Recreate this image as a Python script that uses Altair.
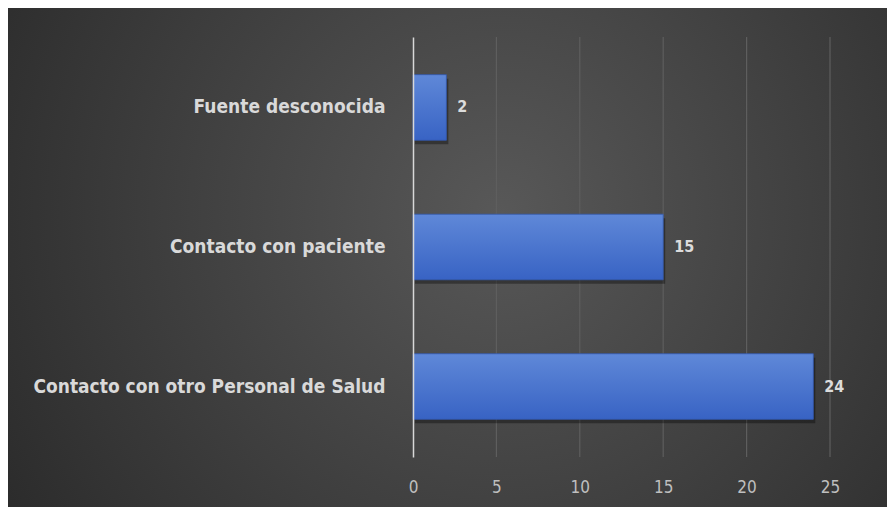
import altair as alt
import pandas as pd

categories = ["Fuente desconocida", "Contacto con paciente", "Contacto con otro Personal de Salud"]
values = [2, 15, 24]
x_ticks = [0, 5, 10, 15, 20, 25]

df = pd.DataFrame({"cat": categories, "val": values})
grid_df = pd.DataFrame({"t": x_ticks[1:]})
bg_df = pd.DataFrame({"a": [0]})

W, H = 417, 420
FONT = "'DejaVu Sans Condensed', 'Open Sans', sans-serif"

bg = alt.Chart(bg_df).mark_rect(
    fill={
        "gradient": "radial",
        "x1": 0.56, "y1": 0.45, "r1": 0,
        "x2": 0.56, "y2": 0.45, "r2": 0.72,
        "stops": [
            {"offset": 0, "color": "#585858"},
            {"offset": 1, "color": "#272727"},
        ],
    },
    clip=False,
).encode(
    x=alt.value(-405), x2=alt.value(474),
    y=alt.value(-29), y2=alt.value(470),
)

y_enc = alt.Y("cat:N", sort=categories, title=None,
              scale=alt.Scale(paddingInner=0.53, paddingOuter=0.27),
              axis=alt.Axis(grid=False, ticks=False, domain=True, zindex=1,
                            domainColor="#d8d8d8", domainWidth=1.5,
                            labelFont=FONT, labelFontSize=19,
                            labelFontWeight="bold", labelColor="#d9d9d9",
                            labelPadding=28, labelLimit=400))
x_enc = alt.X("val:Q", title=None,
              scale=alt.Scale(domain=[0, 25], nice=False),
              axis=alt.Axis(values=x_ticks, grid=False, domain=False, ticks=False, zindex=1,
                            labelFlush=False,
                            labelFont=FONT, labelFontSize=17,
                            labelColor="#bfbfbf", labelPadding=22))

grid = alt.Chart(grid_df).mark_rule(color="#5e5e5e", strokeWidth=1.2).encode(
    x=alt.X("t:Q", scale=alt.Scale(domain=[0, 25], nice=False))
)

shadow = alt.Chart(df).mark_bar(color="black", opacity=0.35, xOffset=2, yOffset=4).encode(
    x=x_enc, y=y_enc
)

bars = alt.Chart(df).mark_bar(
    fill={
        "gradient": "linear",
        "x1": 0, "y1": 0, "x2": 0, "y2": 1,
        "stops": [
            {"offset": 0, "color": "#5f88d8"},
            {"offset": 1, "color": "#3863c4"},
        ],
    },
    stroke="#3459b0", strokeWidth=0.8,
).encode(x=x_enc, y=y_enc)

text = alt.Chart(df).mark_text(
    align="left", baseline="middle", dx=11,
    font=FONT, fontSize=16, fontWeight="bold", color="#dcdcdc",
).encode(x="val:Q", y=alt.Y("cat:N", sort=categories), text="val:Q")

chart = alt.layer(bg, grid, shadow, bars, text).properties(
    width=W, height=H, padding={"left": 0, "top": 0, "right": 0, "bottom": 0}
).configure_view(stroke=None)

chart.save("out.html", embed_options={"renderer": "svg", "actions": False})
